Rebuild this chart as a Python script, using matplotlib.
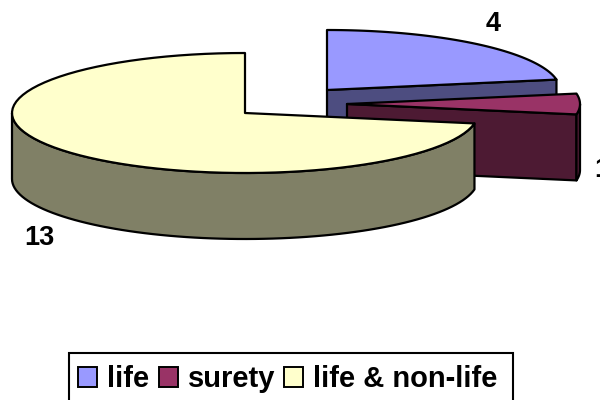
#!/usr/bin/env python

'''
Exploded 3D looking pie of the three insurance categories
'''

import numpy as np
import matplotlib
matplotlib.use('Agg')
import matplotlib.pyplot as plt
from matplotlib.patches import Polygon, Patch, Rectangle

categories = ['life', 'surety', 'life & non-life']
values = [4, 1, 13]
value_labels = ['4', '1', '13']
top_colors = ['#9999ff', '#993366', '#ffffcc']
side_colors = ['#4d4d80', '#4d1a33', '#808066']

# slice centres in pixels, and the pie shape
centers = [(327, 90), (347, 104), (245, 113)]
label_pos = [(493, 24), (602, 170), (39, 238)]
rx, ry, depth = 233, 60, 66

plt.rcParams['font.family'] = ['Liberation Sans', 'DejaVu Sans']

fig = plt.figure(figsize=(6, 4), dpi=100)
ax = fig.add_axes([0, 0, 1, 1])
ax.set_xlim(0, 600)
ax.set_ylim(400, 0)
ax.axis('off')


def rim(center, t0, t1):
    # angles run clockwise from twelve o'clock
    t = np.radians(np.linspace(t0, t1, 80))
    return np.column_stack([center[0] + rx * np.sin(t), center[1] - ry * np.cos(t)])


def add(points, color, z):
    ax.add_patch(Polygon(points, closed=True, facecolor=color, edgecolor='black',
                         linewidth=1.6, joinstyle='round', zorder=z))


edges = np.cumsum([0] + values) / sum(values) * 360

for i in range(len(values)):
    c = np.array(centers[i], dtype=float)
    t0, t1 = edges[i], edges[i + 1]
    down = np.array([0, depth])
    z = i * 10

    # cut face on the clockwise end of the first two slices
    if i < 2:
        a = rim(c, t1, t1)[0]
        add([c, a, a + down, c + down], side_colors[i], z + 1)

    # outer wall, only the part facing the viewer
    w0, w1 = max(t0, 90), min(t1, 270)
    if w1 > w0:
        arc = rim(c, w0, w1)
        add(np.vstack([arc, arc[::-1] + down]), side_colors[i], z + 2)

    add(np.vstack([[c], rim(c, t0, t1)]), top_colors[i], z + 3)

# the "1" runs off the right edge in the original too
for pos, text in zip(label_pos, value_labels):
    ax.text(pos[0], pos[1], text, fontsize=19.5, fontweight='bold', color='black',
            ha='center', va='center', zorder=50)

# legend box is not symmetric around its entries, so it is drawn on its own
ax.add_patch(Rectangle((69, 353), 444, 60, facecolor='white', edgecolor='black',
                       linewidth=1.5, zorder=55))

handles = [Patch(facecolor=col, edgecolor='black', linewidth=1.4) for col in top_colors]
leg = ax.legend(handles, categories, ncol=3, loc='lower center',
                bbox_to_anchor=(288 / 600, -0.016),
                prop={'weight': 'bold', 'size': 21}, frameon=False,
                handlelength=0.65, handleheight=0.65,
                handletextpad=0.34, columnspacing=0.32, borderpad=0.45, borderaxespad=0)
leg.set_zorder(60)

fig.savefig('out.png', dpi=100)
